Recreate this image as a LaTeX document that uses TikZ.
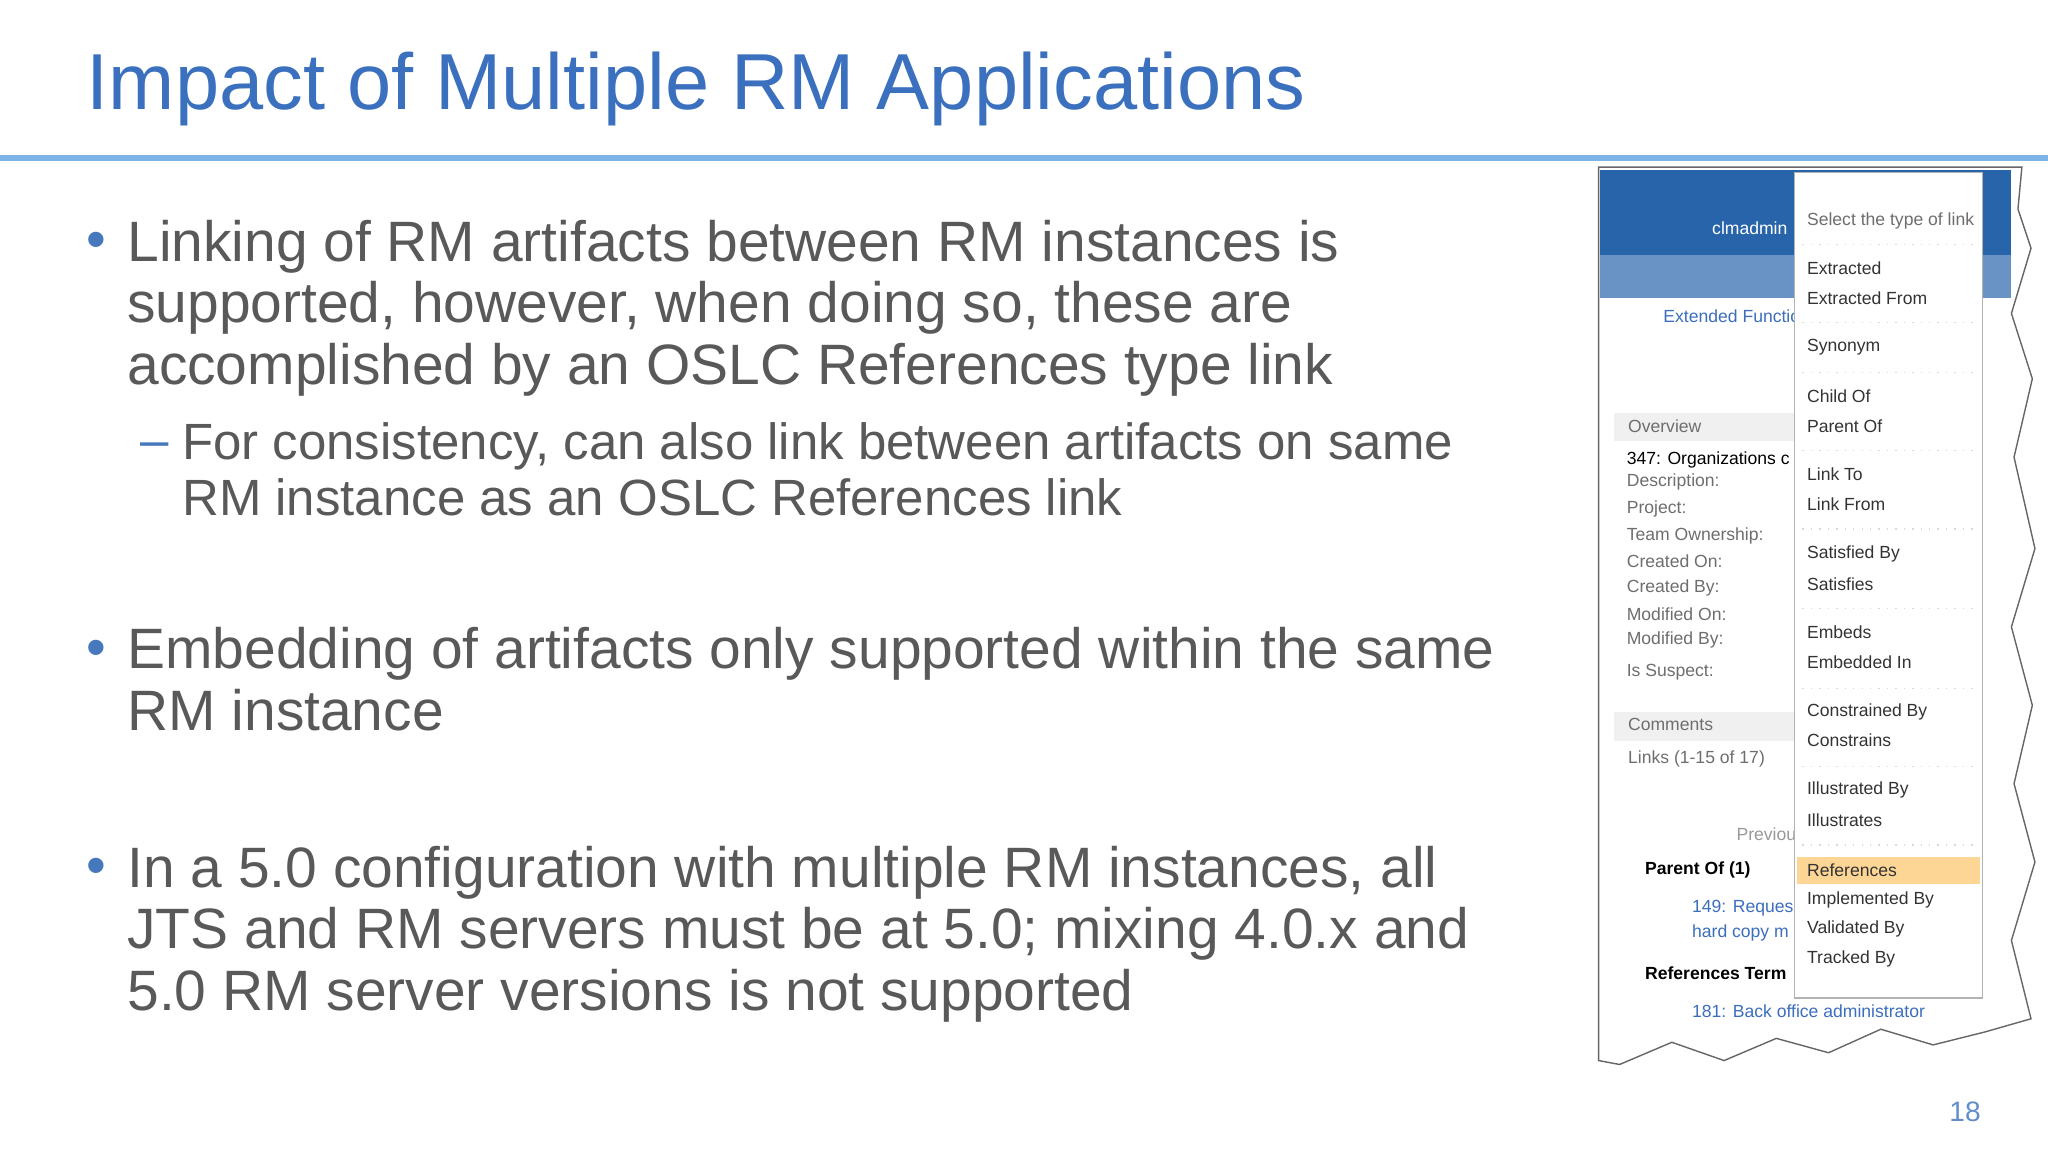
\documentclass[tikz,border=0pt]{standalone}
\usepackage{fontspec}
\setmainfont{Liberation Sans}
\definecolor{ttl}{RGB}{58,112,190}
\definecolor{txt}{RGB}{89,89,89}
\definecolor{rule}{RGB}{125,180,232}
\definecolor{shot}{RGB}{110,110,110}
\definecolor{lnk}{RGB}{60,110,190}
\definecolor{hdr}{RGB}{40,100,170}
\definecolor{hl}{RGB}{253,214,150}
\definecolor{bc}{RGB}{70,120,190}
\begin{document}
\begin{tikzpicture}[x=0.01306cm,y=-0.01306cm,
  body/.style={anchor=north west,align=left,text=txt,font=\fontsize{16.2}{17.5}\selectfont,inner sep=0pt},
  sub/.style={anchor=north west,align=left,text=txt,font=\fontsize{14.5}{15.8}\selectfont,inner sep=0pt},
  bul/.style={anchor=base west,text=bc,font=\fontsize{16}{17.5}\selectfont,inner sep=0pt},
  mi/.style={anchor=west,font=\fontsize{5}{6}\selectfont,text=black!80,inner sep=0pt},
  li/.style={anchor=west,font=\fontsize{5}{6}\selectfont,text=shot,inner sep=0pt}]
\useasboundingbox (0,0) rectangle (1568,882);
\fill[white] (0,0) rectangle (1568,882);
\node[anchor=west,text=ttl,font=\fontsize{22.6}{24}\selectfont,inner sep=0pt] (title) at (66,68) {Impact of Multiple RM Applications};
\draw[rule,line width=1.6pt] (0,121) -- (1568,121);
\node[bul] (b1) at (66,198) {•};
\node[body] (t1) at (97,168) {Linking of RM artifacts between RM instances is\\supported, however, when doing so, these are\\accomplished by an OSLC References type link};
\node[bul,font=\fontsize{14.5}{15.8}\selectfont] (d1) at (107,350) {–};
\node[sub] (t1a) at (139,323) {For consistency, can also link between artifacts on same\\RM instance as an OSLC References link};
\node[bul] (b2) at (66,510) {•};
\node[body] (t2) at (97,480) {Embedding of artifacts only supported within the same\\RM instance};
\node[bul] (b3) at (66,677) {•};
\node[body] (t3) at (97,647) {In a 5.0 configuration with multiple RM instances, all\\JTS and RM servers must be at 5.0; mixing 4.0.x and\\5.0 RM server versions is not supported};
\node[anchor=east,text=ttl!80,font=\fontsize{8}{9}\selectfont,inner sep=0pt] (pg) at (1517,851) {18};
% screenshot
\fill[white,draw=black!60] (1224,128) -- (1548,128) -- (1545,160) -- (1555,190) -- (1540,240) -- (1556,290) -- (1542,350) -- (1558,420) -- (1540,480) -- (1556,540) -- (1542,600) -- (1558,660) -- (1540,720) -- (1555,780) -- (1520,790) -- (1480,800) -- (1440,788) -- (1400,806) -- (1360,795) -- (1320,812) -- (1280,798) -- (1240,815) -- (1224,812) -- cycle;
\fill[hdr] (1225,130) rectangle (1540,195);
\fill[hdr!70!white] (1225,195) rectangle (1540,228);
\node[anchor=east,text=white,font=\fontsize{5}{6}\selectfont] (adm) at (1378,175) {clmadmin};
\node[li,text=lnk] (ef) at (1273,242) {Extended Functio};
\fill[black!6] (1236,316) rectangle (1375,338);
\node[li] (ov) at (1246,326) {Overview};
\node[li,text=black] (l1) at (1245,352) {347: Organizations c};
\foreach \n/\t/\yy in {a/Description:/369,b/Project:/390,c/Team Ownership:/410,d/Created On:/430,e/Created By:/450,f/Modified On:/470,g/Modified By:/490,h/Is Suspect:/515}
  \node[li] (p\n) at (1245,\yy) {\t};
\fill[black!6] (1236,545) rectangle (1375,567);
\node[li] (cm) at (1246,555) {Comments};
\node[li] (lk) at (1246,581) {Links (1-15 of 17)};
\node[li,text=black!40] (pv) at (1329,639) {Previou};
\node[li,text=black,font=\bfseries\fontsize{5}{6}\selectfont] (po) at (1259,666) {Parent Of (1)};
\node[li,text=lnk] (r1) at (1295,695) {149: Reques};
\node[li,text=lnk] (r2) at (1295,714) {hard copy m};
\node[li,text=black,font=\bfseries\fontsize{5}{6}\selectfont] (rt) at (1259,745) {References Term};
\node[li,text=lnk] (r3) at (1295,774) {181: Back office administrator};
% menu
\fill[white,draw=black!30] (1374,132) rectangle (1518,764);
\fill[hl] (1376,656) rectangle (1516,677);
\node[li] (sel) at (1383,169) {Select the type of link};
\foreach \n/\t/\yy in {1/Extracted/205,2/Extracted From/228,3/Synonym/266,4/Child Of/303,5/Parent Of/326,6/Link To/363,7/Link From/386,8/Satisfied By/424,9/Satisfies/447,10/Embeds/484,11/Embedded In/507,12/Constrained By/545,13/Constrains/567,14/Illustrated By/605,15/Illustrates/628,16/References/666,17/Implemented By/689,18/Validated By/711,19/Tracked By/734}
  \node[mi] (m\n) at (1383,\yy) {\t};
\foreach \yy in {187,247,285,345,405,466,527,587,647}
  \draw[black!15,dotted] (1380,\yy) -- (1512,\yy);
\end{tikzpicture}
\end{document}
